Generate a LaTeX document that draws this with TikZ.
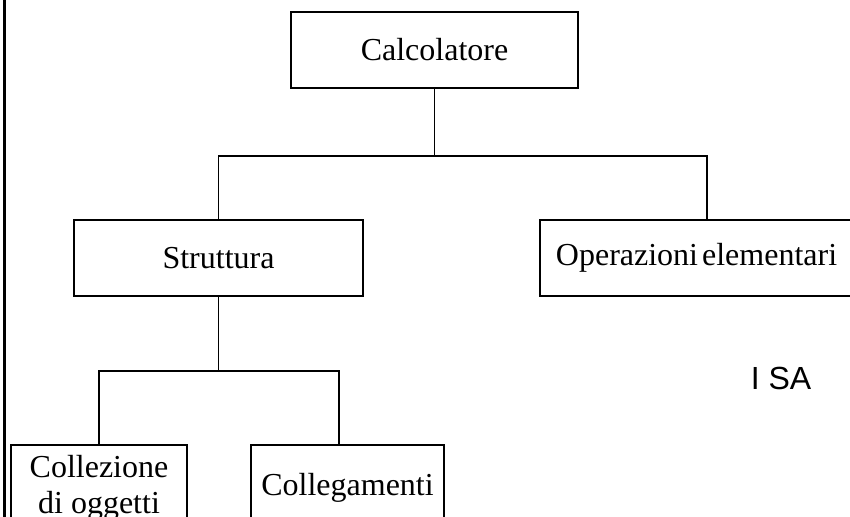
\documentclass[tikz,border=0pt]{standalone}
\usepackage{fontspec}
\setmainfont{Liberation Serif}
\newfontfamily\isafont{Liberation Sans}
\tikzset{
  box/.style={draw, line width=1.9pt, inner sep=0pt, minimum height=76pt,
    font=\fontsize{32}{36}\selectfont},
  link/.style={line width=1.9pt}
}
\begin{document}
\begin{tikzpicture}[x=1pt,y=-1pt]
    \useasboundingbox (0,0) rectangle (850,516);
    \clip (0,0) rectangle (850,516);

    % Bord gauche
    \draw[line width=3.5pt] (4.5,-5) -- (4.5,521);

    % Racine
    \node[box, minimum width=287pt] (calc) at (434.5,50) {Calcolatore};

    % Deuxième niveau
    \node[box, minimum width=289pt] (strut) at (218.5,258) {Struttura};
    \node[box, anchor=west, text width=300pt, inner xsep=16pt, align=left]
      (oper) at (539,258) {Operazioni\hspace{4pt}elementari};

    % Troisième niveau
    \node[box, anchor=north, minimum width=176pt, minimum height=85pt, align=center]
      (coll) at (99,444) {Collezione\\di oggetti};
    \node[box, anchor=north, minimum width=193pt, minimum height=85pt]
      (link) at (347.5,444) {Collegamenti};

    % Étiquette
    \node[font=\isafont\fontsize{32}{34}\selectfont] (isa) at (781,378) {I SA};

    % Liaisons du premier niveau
    \coordinate (j1) at (434.5,156);
    \coordinate (opertop) at (707,219);
    \draw[link] (calc.south) -- (j1);
    \draw[link] (strut.north) |- (j1) -| (opertop);

    % Liaisons du deuxième niveau
    \coordinate (j2) at (218.5,371);
    \coordinate (linktop) at (339,444);
    \draw[link] (strut.south) -- (j2);
    \draw[link] (coll.north) |- (j2) -| (linktop);
\end{tikzpicture}
\end{document}
